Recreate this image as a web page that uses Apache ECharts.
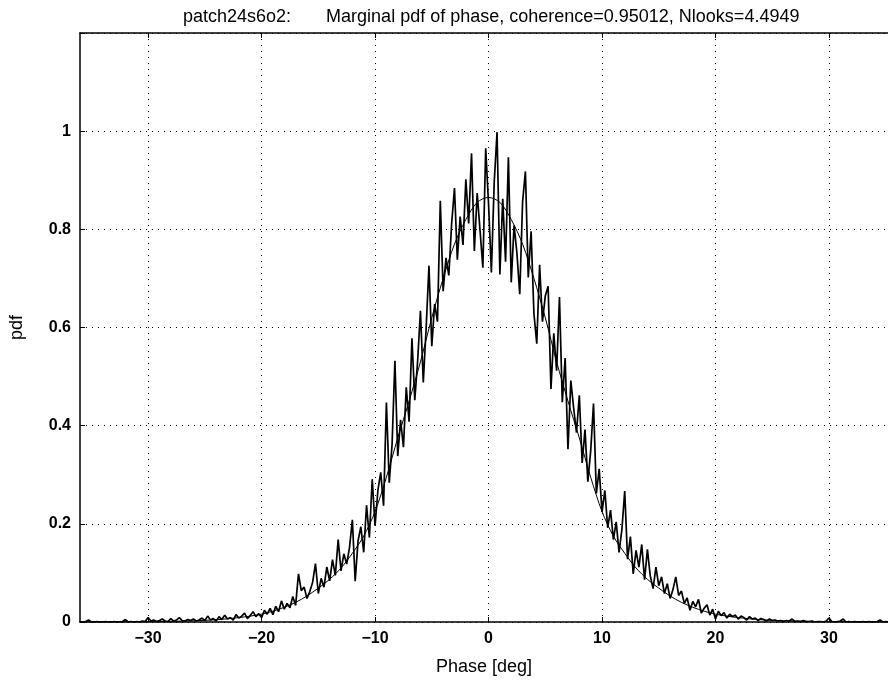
<!DOCTYPE html>
<html>
<head>
<meta charset="utf-8">
<script src="https://cdn.jsdelivr.net/npm/echarts@6/dist/echarts.min.js"></script>
<style>html,body{margin:0;padding:0;background:#fff}#chart{width:888px;height:685px}</style>
</head>
<body>
<div id="chart"></div>
<script>
var titleText = 'patch24s6o2:       Marginal pdf of phase, coherence=0.95012, Nlooks=4.4949';
var xTicks = [-30, -20, -10, 0, 10, 20, 30];
var yTicks = [0, 0.2, 0.4, 0.6, 0.8, 1];

// measured histogram (bin centres from -36 deg, step 0.25 deg)
var histStart = -36;
var histStep = 0.25;
var histPdf = [
  0, 0, 0.001, 0.004, 0, 0, 0.001, 0, 0, 0.001, 0, 0, 0.001, 0, 0, 0.001,
  0.005, 0, 0.001, 0, 0.001, 0, 0.002, 0.001, 0.009, 0.002, 0.004, 0.001, 0.003, 0.006,
  0.002, 0.001, 0.007, 0.002, 0.004, 0.009, 0.003, 0.002, 0.005, 0.003, 0.006, 0.002, 0.004, 0.008,
  0.003, 0.012, 0.004, 0.007, 0.002, 0.011, 0.005, 0.014, 0.006, 0.009,
  0.004, 0.015, 0.008, 0.012, 0.018, 0.007, 0.013, 0.021, 0.011, 0.017,
  0.009, 0.024, 0.016, 0.028, 0.015, 0.032, 0.021, 0.043, 0.026, 0.038,
  0.029, 0.052, 0.034, 0.098, 0.064, 0.071, 0.048, 0.062, 0.081, 0.119, 0.058,
  0.089, 0.071, 0.112, 0.084, 0.127, 0.095, 0.168, 0.104, 0.139, 0.118,
  0.152, 0.208, 0.083, 0.165, 0.194, 0.142, 0.238, 0.172, 0.291, 0.196,
  0.268, 0.305, 0.237, 0.447, 0.284, 0.362, 0.532, 0.338, 0.412, 0.356,
  0.478, 0.408, 0.578, 0.452, 0.531, 0.634, 0.488, 0.598, 0.726, 0.562,
  0.648, 0.612, 0.858, 0.674, 0.742, 0.706, 0.812, 0.884, 0.738, 0.826,
  0.768, 0.902, 0.812, 0.955, 0.756, 0.874, 0.798, 0.722, 0.965, 0.852,
  0.712, 0.896, 0.998, 0.708, 0.862, 0.734, 0.947, 0.692, 0.808, 0.752,
  0.668, 0.856, 0.918, 0.702, 0.796, 0.628, 0.567, 0.728, 0.612, 0.664,
  0.684, 0.475, 0.588, 0.512, 0.662, 0.448, 0.538, 0.352, 0.492, 0.436,
  0.386, 0.462, 0.324, 0.392, 0.286, 0.348, 0.445, 0.262, 0.312, 0.224,
  0.268, 0.192, 0.228, 0.168, 0.204, 0.142, 0.188, 0.267, 0.128, 0.174,
  0.098, 0.146, 0.112, 0.158, 0.086, 0.148, 0.094, 0.068, 0.112, 0.074,
  0.092, 0.058, 0.078, 0.048, 0.066, 0.092, 0.054, 0.063, 0.038, 0.049,
  0.024, 0.042, 0.031, 0.046, 0.018, 0.028, 0.035, 0.014, 0.026, 0.006,
  0.022, 0.013, 0.019, 0.008, 0.016, 0.011, 0.014, 0.006, 0.012, 0.009,
  0.004, 0.011, 0.006, 0.008, 0.003, 0.007, 0.005, 0.002, 0.006, 0.003,
  0.004, 0.002, 0.003, 0.001, 0.003, 0.002, 0.006, 0.001, 0.002, 0.001,
  0.003, 0.001, 0.001, 0.002, 0, 0.001, 0.001, 0, 0.002, 0.008,
  0.001, 0, 0.001, 0.002, 0.006, 0, 0.001, 0, 0.001, 0,
  0, 0.001, 0, 0.001, 0, 0, 0.001, 0.004, 0, 0.001,
  0, 0.002, 0, 0
];

// theoretical pdf
var theoryPhase = [-36,-35,-34,-33,-32,-31,-30,-29,-28,-27,-26,-25,-24,-23,-22,-21,-20,-19,-18,-17,-16,-15,-14,-13,-12,-11,-10,-9,-8,-7,-6,-5,-4,-3,-2,-1,0,
  1,2,3,4,5,6,7,8,9,10,11,12,13,14,15,16,17,18,19,20,21,22,23,24,25,26,27,28,29,30,31,32,33,34,35,36];
var theoryPdf = [0.0001,0.0001,0.0002,0.0003,0.0004,0.0005,0.0007,0.0009,0.0013,0.0018,0.0025,0.0034,0.0047,0.0065,0.009,0.012,0.016,0.022,0.03,0.04,0.053,0.069,0.087,0.11,0.14,0.175,0.225,0.295,0.375,0.45,0.53,0.62,0.70,0.77,0.82,0.855,0.865,
  0.855,0.82,0.77,0.70,0.62,0.53,0.45,0.375,0.295,0.225,0.175,0.14,0.11,0.087,0.069,0.053,0.04,0.03,0.022,0.016,0.012,0.009,0.0065,0.0047,0.0034,0.0025,0.0018,0.0013,0.0009,0.0007,0.0005,0.0004,0.0003,0.0002,0.0001,0.0001];

var histData = histPdf.map(function (v, i) { return [histStart + i * histStep, v]; });
var theoryData = theoryPhase.map(function (p, i) { return [p, theoryPdf[i]]; });

var FONT = 'Liberation Sans';
var chart = echarts.init(document.getElementById('chart'), null, {renderer: 'canvas'});
var dotted = {show: true, lineStyle: {color: '#000', width: 1, type: [1, 5]}};
function minus(v) { return String(v).replace('-', '\u2212'); }

chart.setOption({
  animation: false,
  backgroundColor: '#fff',
  title: {
    text: titleText, left: 178, top: 3,
    textStyle: {fontFamily: FONT, fontSize: 18, fontWeight: 'normal', color: '#000'}
  },
  grid: {left: 78, top: 33, right: 0, bottom: 63, show: false},
  xAxis: [{
    type: 'value', min: -36, max: 35.2,
    name: 'Phase [deg]', nameLocation: 'middle', nameGap: 36,
    nameTextStyle: {fontFamily: FONT, fontSize: 18, color: '#000'},
    axisLine: {show: true, onZero: false, lineStyle: {color: '#000', width: 1.5}},
    axisTick: {show: true, inside: true, length: 5, customValues: xTicks, lineStyle: {color: '#000'}},
    axisLabel: {customValues: xTicks, formatter: minus, margin: 9, fontFamily: FONT, fontSize: 16, fontWeight: 'bold', color: '#000'},
    splitLine: dotted
  }, {
    type: 'value', min: -36, max: 35.2, position: 'top',
    axisLine: {show: true, onZero: false, lineStyle: {color: '#000', width: 1.5}},
    axisTick: {show: true, inside: true, length: 5, customValues: xTicks, lineStyle: {color: '#000'}},
    axisLabel: {show: false},
    splitLine: {show: false}
  }],
  yAxis: {
    type: 'value', min: 0, max: 1.2, interval: 0.2,
    name: 'pdf', nameLocation: 'middle', nameGap: 54, nameRotate: 90,
    nameTextStyle: {fontFamily: FONT, fontSize: 18, color: '#000'},
    axisLine: {show: true, onZero: false, lineStyle: {color: '#000', width: 1.5}},
    axisTick: {show: true, inside: true, length: 5, lineStyle: {color: '#000'}},
    axisLabel: {
      margin: 9, fontFamily: FONT, fontSize: 16, fontWeight: 'bold', color: '#000',
      formatter: function (v) { return v > 1.05 ? '' : String(Math.round(v * 10) / 10); }
    },
    splitLine: dotted
  },
  series: [{
    type: 'line', data: histData, xAxisIndex: 0, showSymbol: false, symbol: 'none',
    lineStyle: {color: '#000', width: 1.7}, z: 3
  }, {
    type: 'line', data: theoryData, xAxisIndex: 0, showSymbol: false, symbol: 'none', smooth: 0.3,
    lineStyle: {color: '#000', width: 1}, z: 4
  }]
});
</script>
</body>
</html>
